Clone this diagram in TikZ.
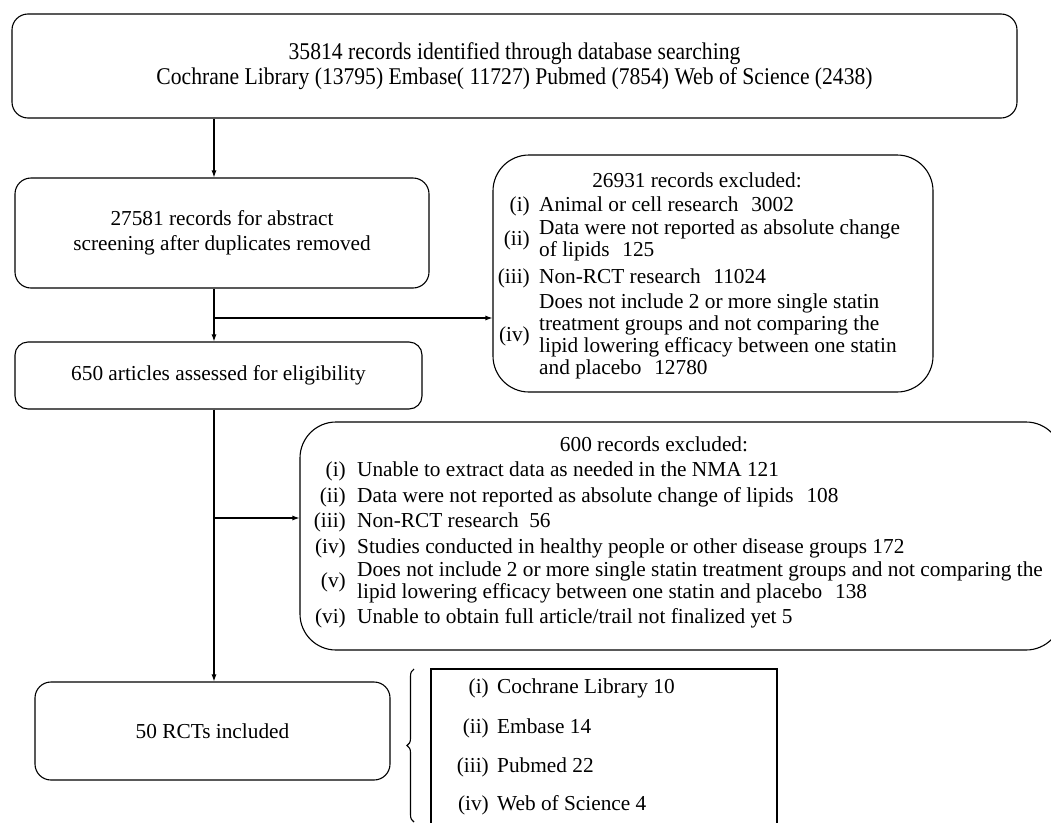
\documentclass[tikz,border=0pt]{standalone}
\usepackage{fontspec}
\setmainfont{Liberation Serif}
\newfontfamily\condfont[FakeStretch=0.9]{Liberation Serif}
\usetikzlibrary{arrows.meta,decorations.pathreplacing}
\newcommand\fs{\fontsize{21.3}{25}\selectfont}
\newcommand\tfs{\fontsize{24}{25.5}\selectfont}
\tikzset{
  box/.style={draw, line width=1.1pt, rounded corners=16pt, inner sep=0pt, align=center, font=\fs},
  bigbox/.style={draw, line width=1.1pt, rounded corners=36pt, inner sep=0pt},
  txt/.style={inner sep=0pt, font=\fs, text height=14pt, text depth=4pt},
  lbl/.style={txt, anchor=east},
  itm/.style={txt, anchor=west},
  hdr/.style={txt, anchor=center},
  arr/.style={-{Latex[length=7pt,width=5pt]}, line width=1.1pt},
  ln/.style={line width=1.1pt},
}
\begin{document}
\begin{tikzpicture}[x=1pt,y=-1pt]
\useasboundingbox (0,0) rectangle (1051,822);
\clip (0,0) rectangle (1051,822);
\fill[white] (0,0) rectangle (1051,822);

% main column boxes
\node[box, minimum width=1005pt, minimum height=104pt, font=\tfs\condfont] (b1) at (514.5,66)
  {35814 records identified through database searching\\Cochrane Library (13795) Embase( 11727) Pubmed (7854) Web of Science (2438)};
\node[box, minimum width=414pt, minimum height=110pt] (b2) at (222,233)
  {27581 records for abstract\\screening after duplicates removed};
\node[box, minimum width=407pt, minimum height=67pt, rounded corners=13pt] (b3) at (218.5,375.5)
  {650 articles assessed for eligibility};
\node[box, minimum width=355pt, minimum height=98pt] (b4) at (212.5,731)
  {50 RCTs included};

% exclusion box 1
\node[bigbox, minimum width=440pt, minimum height=237pt] (e1) at (713,273.5) {};
\node[hdr] (e1h) at (697,182) {26931 records excluded:};
\node[lbl] (e1l1) at (530,206) {(i)};
\node[itm] (e1t1) at (539,206) {Animal or cell research\hspace{0.6em}3002};
\node[lbl] (e1l2) at (530,240) {(ii)};
\node[itm] (e1t2a) at (539,229) {Data were not reported as absolute change};
\node[itm] (e1t2b) at (539,251) {of lipids\hspace{0.6em}125};
\node[lbl] (e1l3) at (530,278) {(iii)};
\node[itm] (e1t3) at (539,278) {Non-RCT research\hspace{0.6em}11024};
\node[lbl] (e1l4) at (530,336) {(iv)};
\node[itm] (e1t4a) at (539,303) {Does not include 2 or more single statin};
\node[itm] (e1t4b) at (539,325) {treatment groups and not comparing the};
\node[itm] (e1t4c) at (539,347) {lipid lowering efficacy between one statin};
\node[itm] (e1t4d) at (539,369) {and placebo\hspace{0.6em}12780};

% exclusion box 2
\node[bigbox, minimum width=762pt, minimum height=228pt] (e2) at (681,536) {};
\node[hdr] (e2h) at (654,446) {600 records excluded:};
\node[lbl] (e2l1) at (346,471) {(i)};
\node[itm] (e2t1) at (357,471) {Unable to extract data as needed in the NMA 121};
\node[lbl] (e2l2) at (346,497) {(ii)};
\node[itm] (e2t2) at (357,497) {Data were not reported as absolute change of lipids\hspace{0.6em}108};
\node[lbl] (e2l3) at (346,522) {(iii)};
\node[itm] (e2t3) at (357,522) {Non-RCT research\hspace{0.5em}56};
\node[lbl] (e2l4) at (346,548) {(iv)};
\node[itm] (e2t4) at (357,548) {Studies conducted in healthy people or other disease groups 172};
\node[lbl] (e2l5) at (346,582) {(v)};
\node[itm] (e2t5a) at (357,571) {Does not include 2 or more single statin treatment groups and not comparing the};
\node[itm] (e2t5b) at (357,593) {lipid lowering efficacy between one statin and placebo\hspace{0.6em}138};
\node[lbl] (e2l6) at (346,618) {(vi)};
\node[itm] (e2t6) at (357,618) {Unable to obtain full article/trail not finalized yet 5};

% list box
\node[draw, line width=1.1pt, minimum width=346pt, minimum height=180pt, inner sep=0pt] (lst) at (604,759) {};
\node[lbl] (ll1) at (489,688) {(i)};
\node[itm] (lt1) at (497,688) {Cochrane Library 10};
\node[lbl] (ll2) at (489,728) {(ii)};
\node[itm] (lt2) at (497,728) {Embase 14};
\node[lbl] (ll3) at (489,767) {(iii)};
\node[itm] (lt3) at (497,767) {Pubmed 22};
\node[lbl] (ll4) at (489,805) {(iv)};
\node[itm] (lt4) at (497,805) {Web of Science 4};

% connectors
\coordinate (vx) at (214,0);
\coordinate (br1) at (214,318);
\coordinate (br2) at (214,518);
\draw[arr] (b1.south -| vx) -- (b2.north -| vx);
\draw[arr] (b2.south -| vx) -- (b3.north -| vx);
\draw[arr] (br1) -- (br1 -| e1.west);
\draw[arr] (b3.south -| vx) -- (b4.north -| vx);
\draw[arr] (br2) -- (br2 -| e2.west);

% brace
\coordinate (brb) at (414,822);
\coordinate (brt) at (414,669);
\draw[ln, decorate, decoration={brace, amplitude=7pt, aspect=0.5}] (brb) -- (brt);
\end{tikzpicture}
\end{document}
